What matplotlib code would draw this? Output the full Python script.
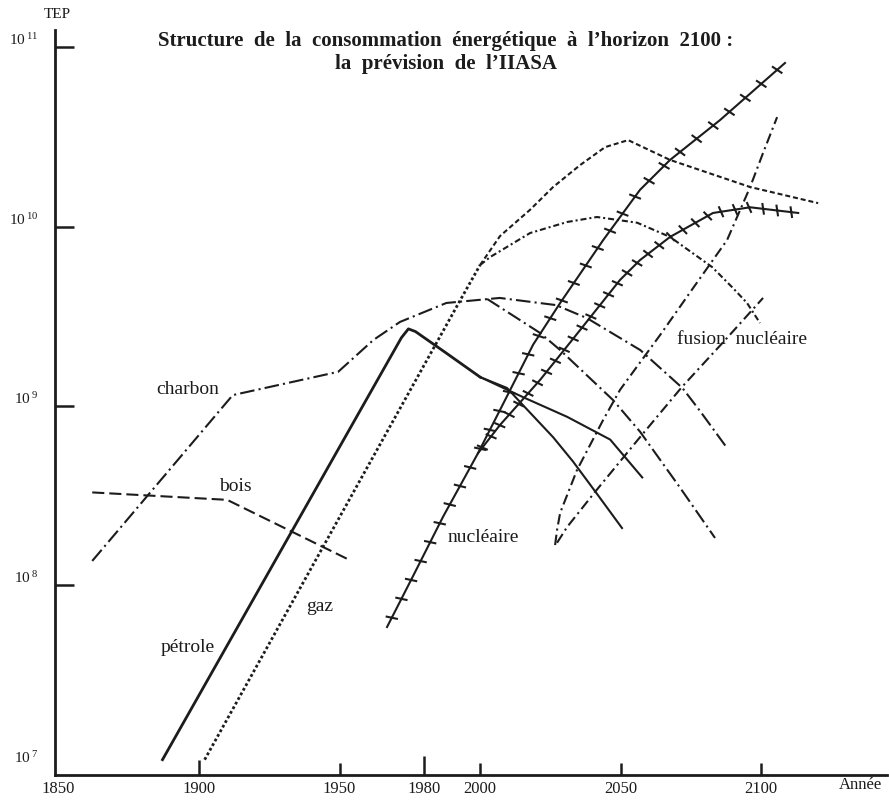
import matplotlib
matplotlib.use('Agg')
import matplotlib.pyplot as plt
import matplotlib.patheffects as pe

plt.rcParams['font.family'] = ['Liberation Serif', 'DejaVu Serif']
plt.rcParams['mathtext.fontset'] = 'custom'
plt.rcParams['mathtext.rm'] = 'Liberation Serif'

INK = '#1c1c1c'

# --- data (years, TEP) ---
bois_years = [1862, 1910, 1953]
bois_vals = [3.3e8, 3.0e8, 1.4e8]

charbon_years = [1862, 1912, 1949.5, 1962, 1971.5, 1988, 2007, 2027, 2038, 2057, 2072, 2078, 2088]
charbon_vals = [1.37e8, 1.15e9, 1.55e9, 2.33e9, 2.94e9, 3.75e9, 4.0e9, 3.65e9, 3.09e9, 2.05e9, 1.26e9, 9.5e8, 5.8e8]
charbon2_years = [2002.5, 2021.4, 2028.5, 2047.3, 2056.9, 2071.2, 2083.6]
charbon2_vals = [3.95e9, 2.55e9, 2.05e9, 1.08e9, 7.2e8, 3.5e8, 1.84e8]

petrole_years = [1887, 1972, 1974.5, 1977, 1988, 2000]
petrole_vals = [1.07e7, 2.4e9, 2.69e9, 2.6e9, 1.97e9, 1.45e9]
petroleA_years = [2000, 2015.3, 2031, 2046.3, 2057.7]
petroleA_vals = [1.45e9, 1.12e9, 8.7e8, 6.5e8, 4.0e8]
petroleB_years = [2000, 2009.6, 2015.3, 2026, 2033.1, 2041.6, 2050.5]
petroleB_vals = [1.45e9, 1.26e9, 1.01e9, 6.7e8, 4.9e8, 3.24e8, 2.09e8]

gaz_years = [1902, 1993, 2000]
gaz_vals = [1.07e7, 3.9e9, 6.1e9]
gaz_hi_years = [2000, 2007.1, 2017.8, 2026, 2035.6, 2044.5, 2052.7, 2067.6, 2096.1, 2120.3]
gaz_hi_vals = [6.1e9, 8.85e9, 1.24e10, 1.66e10, 2.2e10, 2.77e10, 3.03e10, 2.35e10, 1.66e10, 1.35e10]
gaz_lo_years = [2000, 2003.6, 2017.8, 2031, 2041.6, 2055.9, 2067.6, 2082.6, 2090, 2095, 2099.6]
gaz_lo_vals = [6.1e9, 6.76e9, 9.2e9, 1.06e10, 1.13e10, 1.05e10, 8.75e9, 5.94e9, 4.54e9, 3.75e9, 2.9e9]

nuc_hi_years = [1966.9, 1975.8, 1986.8, 1999.3, 2008.9, 2018.9, 2028.5, 2043.8, 2056.9, 2067.6, 2085.4, 2108.5]
nuc_hi_vals = [5.87e7, 1.10e8, 2.41e8, 5.47e8, 1.08e9, 2.2e9, 3.75e9, 8.4e9, 1.6e10, 2.35e10, 3.92e10, 8.15e10]
nuc_lo_years = [1999.3, 2007.1, 2021.4, 2035.6, 2049.8, 2056.9, 2067.6, 2082.9, 2096.1, 2113.2]
nuc_lo_vals = [5.47e8, 7.84e8, 1.40e9, 2.65e9, 5.04e9, 6.5e9, 8.75e9, 1.19e10, 1.28e10, 1.19e10]

fusion1_years = [2026.7, 2027.4, 2028.5, 2034.5, 2043.8, 2049.8, 2064.1, 2075.8, 2087.9, 2096.1, 2100.7, 2105.7]
fusion1_vals = [1.68e8, 2.04e8, 2.54e8, 4.4e8, 8.36e8, 1.23e9, 2.49e9, 4.54e9, 8.41e9, 1.66e10, 2.57e10, 4.07e10]
fusion2_years = [2027.4, 2031, 2040.9, 2056.9, 2071.9, 2087.2, 2100.7]
fusion2_vals = [1.73e8, 2.12e8, 3.32e8, 6.7e8, 1.28e9, 2.33e9, 4.0e9]

x_ticks = [1850, 1900, 1950, 1980, 2000, 2050, 2100]
y_ticks = [1e7, 1e8, 1e9, 1e10, 1e11]
y_labels = [r'$\mathregular{10^{\,7}}$', r'$\mathregular{10^{\,8}}$', r'$\mathregular{10^{\,9}}$',
            r'$\mathregular{10^{\,10}}$', r'$\mathregular{10^{\,11}}$']

# --- figure ---
fig = plt.figure(figsize=(8.89, 8.0), dpi=100)
ax = fig.add_axes([55 / 889, 25 / 800, 832 / 889, 745 / 800])
ax.set_yscale('log')
ax.set_xlim(1848.75, 2144.8)
ax.set_ylim(10 ** 6.944, 10 ** 11.095)

lw = 1.5
ax.plot(bois_years, bois_vals, color=INK, lw=lw, dashes=(5.8, 2.4))
ax.plot(charbon_years, charbon_vals, color=INK, lw=lw, dashes=(7, 2, 1, 2))
ax.plot(charbon2_years, charbon2_vals, color=INK, lw=lw, dashes=(7, 2, 1, 2))
ax.plot(petrole_years, petrole_vals, color=INK, lw=2.0, solid_joinstyle='round')
ax.plot(petroleA_years, petroleA_vals, color=INK, lw=lw)
ax.plot(petroleB_years, petroleB_vals, color=INK, lw=lw)
ax.plot(gaz_years, gaz_vals, color=INK, lw=2.0, dashes=(1, 0.9))
ax.plot(gaz_hi_years, gaz_hi_vals, color=INK, lw=lw, dashes=(2.4, 1.4))
ax.plot(gaz_lo_years, gaz_lo_vals, color=INK, lw=lw, dashes=(2.9, 1.4, 1, 1.4))
ax.plot(fusion1_years, fusion1_vals, color=INK, lw=lw, dashes=(5, 2, 1, 2))
ax.plot(fusion2_years, fusion2_vals, color=INK, lw=lw, dashes=(5, 2, 1, 2))


def ticked(spacing, length):
    return [pe.Normal(),
            pe.TickedStroke(angle=105, spacing=spacing, length=length),
            pe.TickedStroke(angle=-75, spacing=spacing, length=length)]


ax.plot(nuc_hi_years, nuc_hi_vals, color=INK, lw=lw, path_effects=ticked(15, 0.25))
ax.plot(nuc_lo_years, nuc_lo_vals, color=INK, lw=lw, path_effects=ticked(10, 0.35))

# curve names
lab = dict(fontsize=14, color=INK, ha='center', va='center')
ax.text(1896, 1.23e9, 'charbon', **lab)
ax.text(1912.8, 3.58e8, 'bois', **lab)
ax.text(1896, 4.54e7, 'pétrole', **lab)
ax.text(1943, 7.6e7, 'gaz', **lab)
ax.text(2001, 1.86e8, 'nucléaire', **lab)
ax.text(2093.2, 2.36e9, 'fusion  nucléaire', **lab)

# axes look
for s in ['top', 'right']:
    ax.spines[s].set_visible(False)
for s in ['left', 'bottom']:
    ax.spines[s].set_linewidth(2.0)
    ax.spines[s].set_color(INK)

ax.set_xticks(x_ticks)
ax.set_xticklabels([str(t) for t in x_ticks])
ax.tick_params(axis='x', direction='in', length=9, width=1.8, color=INK,
               labelsize=12, labelcolor=INK, pad=4)
xt = ax.xaxis.get_major_ticks()
xt[0].tick1line.set_visible(False)
xt[1].tick1line.set_markersize(11)
xt[3].tick1line.set_markersize(14)
ax.xaxis.set_minor_locator(plt.NullLocator())

ax.set_yticks(y_ticks)
ax.set_yticklabels([])
ax.yaxis.set_minor_locator(plt.NullLocator())
ax.tick_params(axis='y', direction='in', length=14, width=1.8, color=INK)
ax.yaxis.get_major_ticks()[0].tick1line.set_visible(False)
for v, t in zip(y_ticks, y_labels):
    ax.annotate(t, xy=(0, v), xycoords=('axes fraction', 'data'), xytext=(-12, 5),
                textcoords='offset points', ha='right', va='center', fontsize=11, color=INK,
                annotation_clip=False)

fig.text(57 / 889, 1 - 15 / 800, 'TEP', fontsize=11, color=INK, ha='center', va='center')
fig.text(860 / 889, 1 - 785 / 800, 'Année', fontsize=12, color=INK, ha='center', va='center')
fig.text(446 / 889, 1 - 41 / 800, 'Structure  de  la  consommation  énergétique  à  l\u2019horizon  2100 :',
         fontsize=15, fontweight='bold', color=INK, ha='center', va='center')
fig.text(446 / 889, 1 - 64 / 800, 'la  prévision  de  l\u2019IIASA',
         fontsize=15, fontweight='bold', color=INK, ha='center', va='center')

fig.savefig('out.png', dpi=100, facecolor='white')
